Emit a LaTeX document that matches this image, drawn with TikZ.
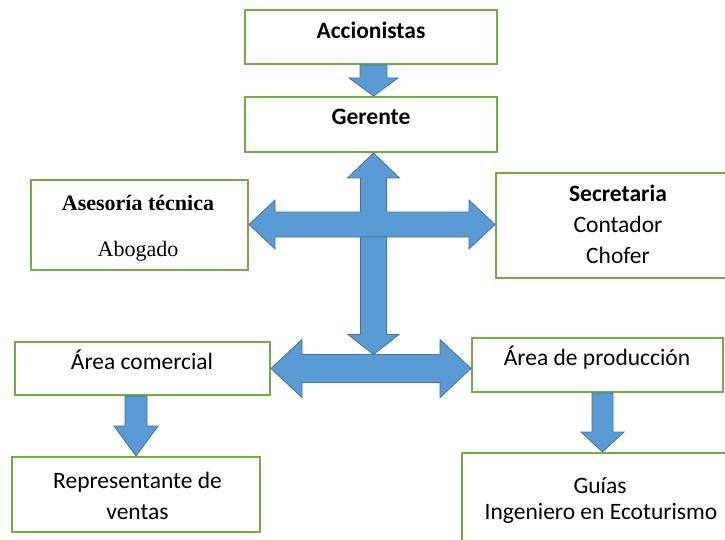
\documentclass[tikz,border=0pt]{standalone}
\usepackage{fontspec}
\setmainfont{Carlito}
\newfontfamily\tnrfont{Liberation Serif}
\usetikzlibrary{calc}
\definecolor{boxgreen}{HTML}{70AD47}
\definecolor{arrblue}{HTML}{5B9BD5}
\definecolor{arredge}{HTML}{41719C}
\newcommand\orgbox[5]{\node[box, minimum width={#4-#2}, minimum height={#5-#3}] (#1) at ({(#2+#4)/2},{(#3+#5)/2}) {};}
\begin{document}
\begin{tikzpicture}[x=1pt,y=-1pt,
  box/.style={draw=boxgreen, line width=2pt, fill=white, inner sep=0pt},
  lbl/.style={anchor=base, inner sep=0pt, font=\fontsize{23.5}{28}\selectfont},
  lblb/.style={anchor=base, inner sep=0pt, font=\fontsize{23.5}{28}\selectfont\bfseries},
  tlbl/.style={anchor=base, inner sep=0pt, font=\tnrfont\fontsize{22}{26}\selectfont},
  tlblb/.style={anchor=base, inner sep=0pt, font=\tnrfont\fontsize{22}{26}\selectfont\bfseries},
  blk/.style={fill=arrblue, draw=arredge, line width=0.8pt, line join=miter}]
\useasboundingbox (0,0) rectangle (725,540);
\clip (0,0) rectangle (725,540);
\fill[white] (0,0) rectangle (725,540);

% boxes
\orgbox{acc}{245}{10}{497}{64}
\orgbox{ger}{245}{97}{497}{152}
\orgbox{ase}{31}{180}{248}{270}
\orgbox{sec}{496}{173}{740}{278}
\orgbox{com}{15}{342}{270}{395}
\orgbox{pro}{472}{338}{723}{392}
\orgbox{rep}{12}{457}{260}{532}
\orgbox{gui}{462}{453}{740}{555}

% texts
\node[lblb] (tacc) at (371,39) {Accionistas};
\node[lblb] (tger) at (371,125) {Gerente};
\node[tlblb] (tase1) at (138,211) {Asesoría técnica};
\node[tlbl] (tase2) at (138,256) {Abogado};
\node[lblb] (tsec1) at (618,201) {Secretaria};
\node[lbl] (tsec2) at (618,232) {Contador};
\node[lbl] (tsec3) at (618,263) {Chofer};
\node[lbl] (tcom) at (142,369) {Área comercial};
\node[lbl] (tpro) at (597,365) {Área de producción};
\node[lbl] (trep1) at (137.5,488) {Representante de};
\node[lbl] (trep2) at (137.5,519) {ventas};
\node[lbl] (tgui1) at (600,493) {Guías};
\node[lbl] (tgui2) at (601,519) {Ingeniero en Ecoturismo};

% arrow Accionistas -> Gerente
\coordinate (x1) at (373.5,0);
\draw[blk] ($(x1|-acc.south)+(-13.5,0)$) -- ($(x1|-acc.south)+(13.5,0)$)
  -- ($(x1|-ger.north)+(13.5,-18)$) -- ($(x1|-ger.north)+(24.5,-18)$)
  -- (x1|-ger.north) -- ($(x1|-ger.north)+(-24.5,-18)$)
  -- ($(x1|-ger.north)+(-13.5,-18)$) -- cycle;

% cross arrow
\coordinate (hub) at (373.5,224.5);
\coordinate (U) at (hub |- ger.south);
\coordinate (L) at (ase.east |- hub);
\coordinate (R) at (sec.west |- hub);
\draw[blk] (L) -- ($(L)+(26,-24.5)$) -- ($(L)+(26,-12.5)$) -- ($(hub)+(-13,-12.5)$)
  -- ($(U)+(-13,25)$) -- ($(U)+(-26,25)$) -- (U) -- ($(U)+(26,25)$) -- ($(U)+(13,25)$)
  -- ($(hub)+(13,-12.5)$) -- ($(R)+(-26,-12.5)$) -- ($(R)+(-26,-24.5)$) -- (R)
  -- ($(R)+(-26,24.5)$) -- ($(R)+(-26,12.5)$) -- ($(L)+(26,12.5)$) -- ($(L)+(26,24.5)$) -- cycle;

% bottom double arrow
\coordinate (L2) at (com.east);
\coordinate (R2) at (pro.west |- com.east);
\coordinate (hub2) at (hub |- com.east);
\coordinate (D) at ($(hub2)+(0,-14)$);
\draw[blk] ($(hub)+(-13,12.5)$) -- ($(hub)+(13,12.5)$) -- ($(D)+(13,-20)$) -- ($(D)+(25.5,-20)$)
  -- (D) -- ($(D)+(-25.5,-20)$) -- ($(D)+(-13,-20)$) -- cycle;
\draw[blk] (L2) -- ($(L2)+(31,-29)$) -- ($(L2)+(31,-14)$) -- ($(R2)+(-31,-14)$) -- ($(R2)+(-31,-29)$)
  -- (R2) -- ($(R2)+(-31,29)$) -- ($(R2)+(-31,14)$) -- ($(L2)+(31,14)$) -- ($(L2)+(31,29)$) -- cycle;

% arrow Area comercial -> Representante
\coordinate (x2) at (136,0);
\draw[blk] ($(x2|-com.south)+(-11,0)$) -- ($(x2|-com.south)+(11,0)$)
  -- ($(x2|-rep.north)+(11,-30)$) -- ($(x2|-rep.north)+(22,-30)$)
  -- (x2|-rep.north) -- ($(x2|-rep.north)+(-22,-30)$)
  -- ($(x2|-rep.north)+(-11,-30)$) -- cycle;

% arrow Area de produccion -> Guias
\coordinate (x3) at (602.5,0);
\draw[blk] ($(x3|-pro.south)+(-10.5,0)$) -- ($(x3|-pro.south)+(10.5,0)$)
  -- ($(x3|-gui.north)+(10.5,-20)$) -- ($(x3|-gui.north)+(21.5,-20)$)
  -- (x3|-gui.north) -- ($(x3|-gui.north)+(-21.5,-20)$)
  -- ($(x3|-gui.north)+(-10.5,-20)$) -- cycle;
\end{tikzpicture}
\end{document}
